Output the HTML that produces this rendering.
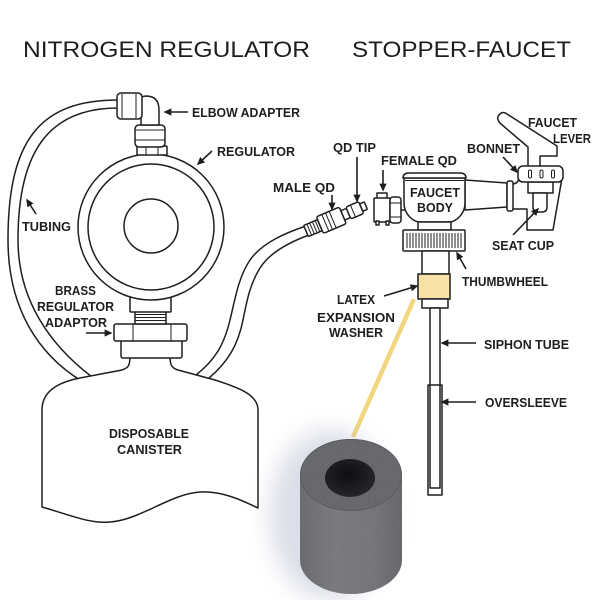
<!DOCTYPE html>
<html><head><meta charset="utf-8"><style>
html,body{margin:0;padding:0;background:#fff;}
svg{display:block;}
text{font-family:"Liberation Sans",Arial,sans-serif;fill:#1e1e1e;}
.l{font-size:13px;font-weight:bold;}
.t{font-size:22px;}
.s{fill:none;stroke:#1e1e1e;stroke-width:1.5;stroke-linejoin:round;stroke-linecap:round;}
.w{fill:#fff;stroke:#1e1e1e;stroke-width:1.5;stroke-linejoin:round;}
.h{fill:none;stroke:#1e1e1e;stroke-width:1;}
.ar{fill:none;stroke:#1e1e1e;stroke-width:1.6;marker-end:url(#a);}
</style></head><body>
<svg width="600" height="600" viewBox="0 0 600 600" xmlns="http://www.w3.org/2000/svg">
<defs>
<marker id="a" viewBox="0 0 10 10" refX="8" refY="5" markerUnits="userSpaceOnUse" markerWidth="8" markerHeight="8" orient="auto"><path d="M0,0.5 L10,5 L0,9.5 z" fill="#1e1e1e"/></marker>
<filter id="blur" x="-50%" y="-50%" width="200%" height="200%"><feGaussianBlur stdDeviation="12"/></filter>
<filter id="noise" x="0" y="0" width="100%" height="100%">
<feTurbulence type="fractalNoise" baseFrequency="1.2" numOctaves="1" result="n"/>
<feColorMatrix in="n" type="matrix" values="0 0 0 0 0.5  0 0 0 0 0.5  0 0 0 0 0.52  0 0 0 0.35 0" result="nc"/>
<feComposite in="nc" in2="SourceGraphic" operator="in" result="nm"/>
<feMerge><feMergeNode in="SourceGraphic"/><feMergeNode in="nm"/></feMerge>
</filter>
<linearGradient id="side" x1="0" x2="1" y1="0" y2="0">
<stop offset="0" stop-color="#4d4e54"/><stop offset="0.35" stop-color="#66676c"/><stop offset="0.7" stop-color="#5f6065"/><stop offset="1" stop-color="#48494e"/>
</linearGradient>
<radialGradient id="hole" cx="0.45" cy="0.4" r="0.6">
<stop offset="0" stop-color="#0e0e11"/><stop offset="1" stop-color="#25252a"/>
</radialGradient>
</defs>

<!-- Titles -->
<text class="t" x="23" y="57" textLength="287" lengthAdjust="spacingAndGlyphs">NITROGEN REGULATOR</text>
<text class="t" x="352" y="57" textLength="219" lengthAdjust="spacingAndGlyphs">STOPPER-FAUCET</text>

<!-- left tubing -->
<path class="s" d="M118,100 C40,100 8,140 8,240 C8,310 40,355 80,380"/>
<path class="s" d="M118,108 C50,108 18,150 18,240 C18,300 50,345 92,377"/>
<!-- right tubing -->
<path class="s" d="M306,226 C285,233 262,243 250,260 C238,278 235,300 230,320 C224,345 215,360 196,375"/>
<path class="s" d="M309,235 C290,242 270,252 260,268 C250,284 247,300 243,320 C238,345 228,362 209,378"/>

<!-- canister -->
<path class="w" d="M130,356 C130,366 128,368 122,370 L80,378 C60,382 42,390 42,410 L42,507 C70,515 90,524 110,522 C140,520 170,494 200,492 C225,491 245,502 258,508 L258,410 C258,395 240,388 215,380 L178,370 C172,368 170,366 170,356 Z"/>
<text class="l" x="109" y="438" textLength="80" lengthAdjust="spacingAndGlyphs">DISPOSABLE</text>
<text class="l" x="117" y="454" textLength="65" lengthAdjust="spacingAndGlyphs">CANISTER</text>

<!-- regulator adaptor stack -->
<rect class="w" x="121" y="340" width="61" height="18" rx="2"/>
<rect class="w" x="114" y="324" width="73" height="17" rx="2"/>
<line class="h" x1="133" y1="324" x2="133" y2="341"/>
<line class="h" x1="171" y1="324" x2="171" y2="341"/>
<rect class="w" x="135" y="311" width="31" height="13"/>
<line class="h" x1="135" y1="314.5" x2="166" y2="314.5"/>
<line class="h" x1="135" y1="317.5" x2="166" y2="317.5"/>
<line class="h" x1="135" y1="320.5" x2="166" y2="320.5"/>
<rect class="w" x="130" y="296" width="41" height="16" rx="1"/>

<!-- regulator -->
<circle class="w" cx="151" cy="227" r="73"/>
<circle class="s" cx="151" cy="227" r="63"/>
<circle class="s" cx="151" cy="226" r="27"/>

<!-- elbow adapter -->
<rect class="w" x="137" y="146" width="30" height="9" rx="1"/>
<line class="h" x1="146" y1="146" x2="146" y2="155"/>
<line class="h" x1="158" y1="146" x2="158" y2="155"/>
<rect class="w" x="135" y="125" width="30" height="22" rx="4"/>
<line class="h" x1="135" y1="130" x2="165" y2="130"/>
<line class="h" x1="135" y1="140" x2="165" y2="140"/>
<path class="w" d="M140,97 L146,96 Q159,96 159,110 L159,125 L141,125 L141,117 L140,117 Z"/>
<rect class="w" x="117" y="93" width="25" height="26" rx="4"/>
<line class="h" x1="122" y1="94" x2="122" y2="118"/>
<line class="h" x1="136" y1="94" x2="136" y2="118"/>

<!-- labels left -->
<text class="l" x="192" y="117" textLength="108" lengthAdjust="spacingAndGlyphs">ELBOW ADAPTER</text>
<path class="ar" d="M188,112 L165,112"/>
<text class="l" x="217" y="156" textLength="78" lengthAdjust="spacingAndGlyphs">REGULATOR</text>
<path class="ar" d="M212,151 L198,164"/>
<text class="l" x="22" y="231" textLength="49" lengthAdjust="spacingAndGlyphs">TUBING</text>
<path class="ar" d="M36,214 L27,200"/>
<text class="l" x="55" y="295" textLength="41" lengthAdjust="spacingAndGlyphs">BRASS</text>
<text class="l" x="37" y="311" textLength="77" lengthAdjust="spacingAndGlyphs">REGULATOR</text>
<text class="l" x="45" y="327" textLength="62" lengthAdjust="spacingAndGlyphs">ADAPTOR</text>
<path class="ar" d="M86,333 L111,333"/>

<!-- male QD -->
<g transform="translate(306,231) rotate(-23)">
<rect class="w" x="0" y="-6" width="15" height="12" rx="1"/>
<line class="h" x1="3.5" y1="-6" x2="3.5" y2="6"/>
<line class="h" x1="6.5" y1="-6" x2="6.5" y2="6"/>
<line class="h" x1="9.5" y1="-6" x2="9.5" y2="6"/>
<line class="h" x1="12.5" y1="-6" x2="12.5" y2="6"/>
<rect class="w" x="15" y="-9" width="25" height="18" rx="2"/>
<line class="h" x1="21" y1="-9" x2="21" y2="9"/>
<line class="h" x1="25" y1="-9" x2="25" y2="9"/>
<line class="h" x1="29" y1="-9" x2="29" y2="9"/>
<rect class="w" x="40" y="-5" width="6" height="10"/>
<rect class="w" x="46" y="-6.5" width="14" height="13" rx="2"/>
<line class="h" x1="51" y1="-6.5" x2="51" y2="6.5"/>
<rect class="w" x="60" y="-4" width="5" height="8" rx="1"/>
</g>
<text class="l" x="273" y="192" textLength="62" lengthAdjust="spacingAndGlyphs">MALE QD</text>
<path class="ar" d="M332,195 L332,209"/>
<text class="l" x="333" y="152" textLength="43" lengthAdjust="spacingAndGlyphs">QD TIP</text>
<path class="ar" d="M357,157 L357,201"/>
<text class="l" x="381" y="165" textLength="76" lengthAdjust="spacingAndGlyphs">FEMALE QD</text>
<path class="ar" d="M383,170 L383,190"/>

<!-- female QD -->
<rect class="w" x="377" y="193" width="10" height="6"/>
<rect class="w" x="374" y="198" width="16" height="24" rx="1"/>
<rect class="w" x="376" y="221" width="3" height="4"/>
<rect class="w" x="386" y="221" width="3" height="4"/>
<rect class="w" x="390" y="197" width="11" height="26" rx="3"/>
<line class="h" x1="390" y1="203" x2="401" y2="203"/>
<line class="h" x1="390" y1="217" x2="401" y2="217"/>
<line class="s" x1="401" y1="210" x2="404" y2="210"/>

<!-- spout & housing -->
<path class="w" d="M465,180 L507,183 L507,207 L465,210 Z"/>
<path class="w" d="M512,184 Q518,184 519,178 L562,178 L553,230 L527,230 L527,209 L512,209 Z"/>
<rect class="w" x="507" y="181" width="6" height="30" rx="2"/>
<rect class="w" x="528" y="182" width="25" height="11"/>
<path class="w" d="M533,193 L547,193 L547,207 Q547,212 542,212 L538,212 Q533,212 533,207 Z"/>
<!-- lever -->
<path class="w" d="M528,168 L528,147 L501,124 Q495,118 500,114 Q503,111 507,114 L557,146 L557,156 L540,156 L540,168 Z"/>
<!-- bonnet -->
<rect class="w" x="518" y="166" width="45" height="16" rx="5"/>
<rect class="h" x="528.5" y="170" width="3" height="8" rx="1.5"/>
<rect class="h" x="540" y="170" width="3" height="8" rx="1.5"/>
<rect class="h" x="551.5" y="170" width="3" height="8" rx="1.5"/>

<!-- faucet body -->
<path class="w" d="M404,178 L404,203 C404,215 414,222 420,222 L449,222 C455,222 465,215 465,203 L465,178 Z"/>
<path class="w" d="M403,178 Q403,173 409,173 L460,173 Q466,173 466,178 Z"/>
<line class="h" x1="405" y1="180.5" x2="464" y2="180.5"/>
<rect class="w" x="418" y="222" width="33" height="8"/>
<text class="l" x="410" y="197" textLength="50" lengthAdjust="spacingAndGlyphs">FAUCET</text>
<text class="l" x="417" y="212" textLength="36" lengthAdjust="spacingAndGlyphs">BODY</text>

<!-- thumbwheel -->
<rect class="w" x="403" y="230" width="62" height="21" rx="1"/>
<g class="h">
<line x1="407" y1="233" x2="407" y2="248"/><line x1="410" y1="233" x2="410" y2="248"/><line x1="413" y1="233" x2="413" y2="248"/><line x1="416" y1="233" x2="416" y2="248"/><line x1="419" y1="233" x2="419" y2="248"/><line x1="422" y1="233" x2="422" y2="248"/><line x1="425" y1="233" x2="425" y2="248"/><line x1="428" y1="233" x2="428" y2="248"/><line x1="431" y1="233" x2="431" y2="248"/><line x1="434" y1="233" x2="434" y2="248"/><line x1="437" y1="233" x2="437" y2="248"/><line x1="440" y1="233" x2="440" y2="248"/><line x1="443" y1="233" x2="443" y2="248"/><line x1="446" y1="233" x2="446" y2="248"/><line x1="449" y1="233" x2="449" y2="248"/><line x1="452" y1="233" x2="452" y2="248"/><line x1="455" y1="233" x2="455" y2="248"/><line x1="458" y1="233" x2="458" y2="248"/><line x1="461" y1="233" x2="461" y2="248"/>
</g>
<rect class="w" x="422" y="251" width="27" height="23"/>
<rect x="418" y="274" width="32" height="25" fill="#f6e1a6" stroke="#1e1e1e" stroke-width="1.5"/>
<rect class="w" x="422" y="299" width="26" height="9"/>
<rect class="w" x="430" y="308" width="10" height="180"/>
<rect class="s" x="428" y="385" width="14" height="110"/>

<!-- faucet labels -->
<text class="l" x="528" y="127" textLength="49" lengthAdjust="spacingAndGlyphs">FAUCET</text>
<text class="l" x="553" y="143" textLength="38" lengthAdjust="spacingAndGlyphs">LEVER</text>
<text class="l" x="467" y="153" textLength="53" lengthAdjust="spacingAndGlyphs">BONNET</text>
<path class="ar" d="M503,157 L517,172"/>
<text class="l" x="492" y="250" textLength="62" lengthAdjust="spacingAndGlyphs">SEAT CUP</text>
<path class="ar" d="M513,235 L538,209"/>
<text class="l" x="462" y="286" textLength="86" lengthAdjust="spacingAndGlyphs">THUMBWHEEL</text>
<path class="ar" d="M466,269 L457,253"/>
<text class="l" x="337" y="304" textLength="38" lengthAdjust="spacingAndGlyphs">LATEX</text>
<text class="l" x="317" y="322" textLength="78" lengthAdjust="spacingAndGlyphs">EXPANSION</text>
<text class="l" x="329" y="337" textLength="54" lengthAdjust="spacingAndGlyphs">WASHER</text>
<path class="ar" d="M384,296 L417,286"/>
<text class="l" x="484" y="349" textLength="85" lengthAdjust="spacingAndGlyphs">SIPHON TUBE</text>
<path class="ar" d="M476,343 L442,343"/>
<text class="l" x="485" y="407" textLength="82" lengthAdjust="spacingAndGlyphs">OVERSLEEVE</text>
<path class="ar" d="M476,402 L442,402"/>

<!-- yellow pointer -->
<line x1="414" y1="299" x2="353" y2="437" stroke="#f2d67e" stroke-width="4.5"/>

<!-- photo washer -->
<ellipse cx="330" cy="515" rx="60" ry="85" fill="#a9afc6" opacity="0.42" filter="url(#blur)"/>
<g filter="url(#noise)">
<path d="M300,475 L300,560 A51,34 0 0 0 402,560 L402,475 Z" fill="url(#side)"/>
<ellipse cx="351" cy="475" rx="51" ry="36" fill="#47484e"/>
</g>
<ellipse cx="351" cy="475" rx="50.5" ry="35.5" fill="none" stroke="#5c5d63" stroke-width="1"/>
<ellipse cx="350" cy="478" rx="25" ry="19" fill="url(#hole)"/>
</svg>
</body></html>
